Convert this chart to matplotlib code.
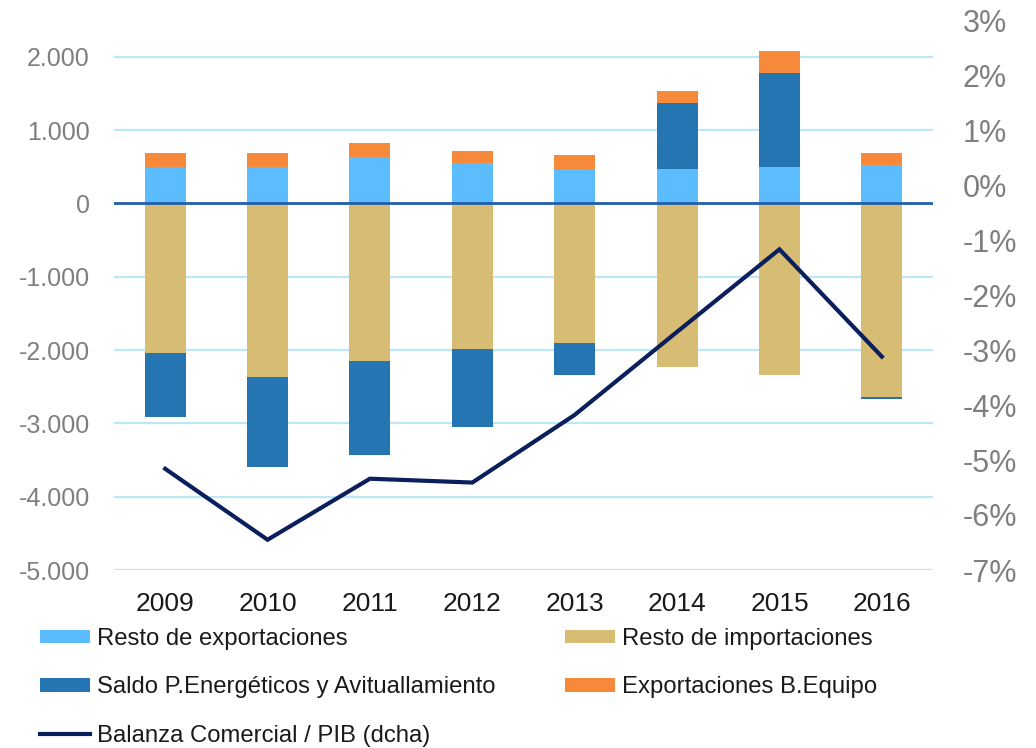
import matplotlib
matplotlib.use("Agg")
import matplotlib.pyplot as plt
import numpy as np

years = ["2009", "2010", "2011", "2012", "2013", "2014", "2015", "2016"]
resto_export = [498, 498, 635, 553, 471, 471, 498, 525]
resto_import = [-2038, -2371, -2152, -1988, -1906, -2230, -2339, -2644]
saldo_energ = [-876, -1221, -1282, -1063, -433, 897, 1280, -24]
export_equipo = [195, 195, 191, 164, 191, 164, 302, 165]
balanza_pib = [-5.16, -6.45, -5.34, -5.41, -4.18, -2.67, -1.17, -3.12]

left_ticks = [-5000, -4000, -3000, -2000, -1000, 0, 1000, 2000]
left_labels = ["-5.000", "-4.000", "-3.000", "-2.000", "-1.000", "0", "1.000", "2.000"]
right_ticks = [-7, -6, -5, -4, -3, -2, -1, 0, 1, 2, 3]
right_labels = [f"{t}%" for t in right_ticks]

plt.rcParams["font.family"] = ["Liberation Sans", "DejaVu Sans"]

c_exp = "#5BBDFE"
c_imp = "#D7BD74"
c_saldo = "#2475B1"
c_equipo = "#F68A3A"
c_line = "#0A1F5C"
c_grid = "#BDE6F7"
c_zero = "#1F5FB0"

fig = plt.figure(figsize=(10.36, 7.48), dpi=100)
ax = fig.add_axes([114/1036, 1-570/748, (933-114)/1036, 550/748])
ax2 = ax.twinx()

x = np.arange(len(years))
w = 0.4
exp = np.array(resto_export, float)
imp = np.array(resto_import, float)
sal = np.array(saldo_energ, float)
equ = np.array(export_equipo, float)

sal_pos = np.where(sal > 0, sal, 0)
sal_neg = np.where(sal < 0, sal, 0)

ax.bar(x, exp, w, color=c_exp, zorder=2, label="Resto de exportaciones")
ax.bar(x, imp, w, color=c_imp, zorder=2, label="Resto de importaciones")
ax.bar(x, sal_pos, w, bottom=exp, color=c_saldo, zorder=2,
       label="Saldo P.Energéticos y Avituallamiento")
ax.bar(x, sal_neg, w, bottom=imp, color=c_saldo, zorder=2)
ax.bar(x, equ, w, bottom=exp + sal_pos, color=c_equipo, zorder=2,
       label="Exportaciones B.Equipo")

for t in left_ticks:
    if t != 0:
        ax.axhline(t, color=c_grid, lw=1.6, zorder=1)
ax.axhline(0, color=c_zero, lw=2.0, zorder=3)

ax.set_xlim(-0.5, len(years) - 0.5)
ax.set_ylim(-5000, 2500)
ax.set_yticks(left_ticks)
ax.set_yticklabels(left_labels)
ax.set_xticks(x)
ax.set_xticklabels(years)
ax.tick_params(axis="y", length=0, pad=17.3, labelsize=18, labelcolor="#7F7F7F")
ax.tick_params(axis="x", length=0, pad=16, labelsize=19, labelcolor="#1A1A1A")

ax2.plot(x, balanza_pib, color=c_line, lw=3.0, zorder=4,
         label="Balanza Comercial / PIB (dcha)", solid_joinstyle="miter")
ax2.set_ylim(-7, 3)
ax2.set_yticks(right_ticks)
ax2.set_yticklabels(right_labels)
ax2.tick_params(axis="y", length=0, pad=21.6, labelsize=22, labelcolor="#7F7F7F")

for a in (ax, ax2):
    for s in a.spines.values():
        s.set_visible(False)

h1, l1 = ax.get_legend_handles_labels()
h2, l2 = ax2.get_legend_handles_labels()
hd = dict(zip(l1 + l2, h1 + h2))
order = ["Resto de exportaciones", "Saldo P.Energéticos y Avituallamiento",
         "Balanza Comercial / PIB (dcha)", "Resto de importaciones",
         "Exportaciones B.Equipo"]
leg = fig.legend([hd[k] for k in order], order, ncol=2, loc="upper left",
                 bbox_to_anchor=(40/1036, 1-628/748), frameon=False,
                 prop={"size": 17.2}, handlelength=2.09,
                 handleheight=0.5, handletextpad=0.29, columnspacing=2.93,
                 labelspacing=1.1, borderpad=0, borderaxespad=0)
for t in leg.get_texts():
    t.set_color("#1A1A1A")

fig.savefig("out.png", dpi=100)
